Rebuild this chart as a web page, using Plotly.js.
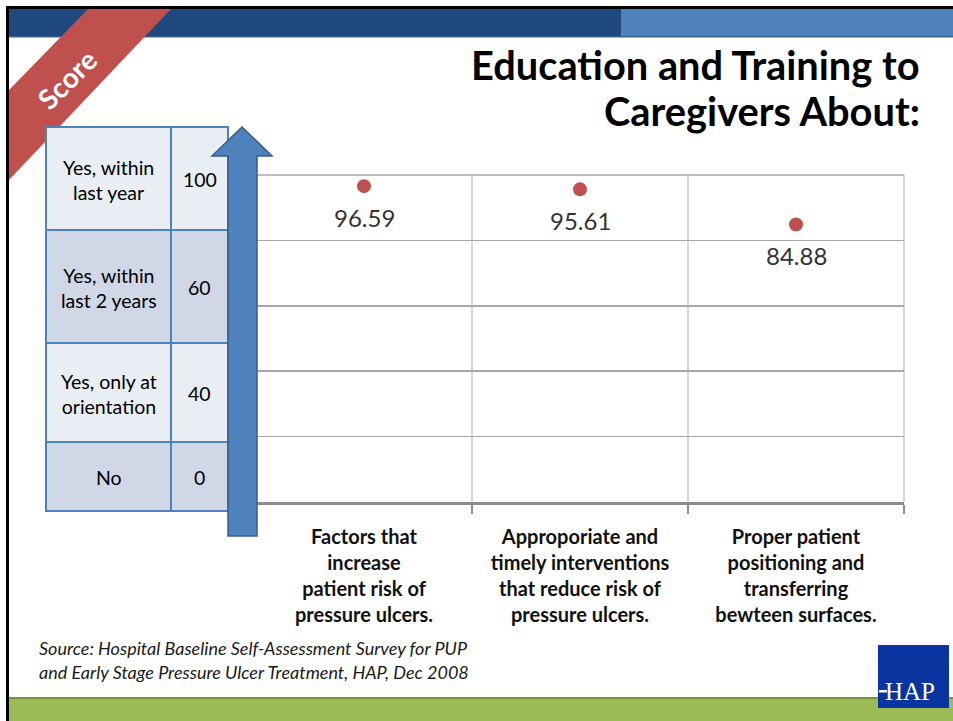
<!DOCTYPE html>
<html>
<head>
<meta charset="utf-8">
<script src="https://cdn.plot.ly/plotly-3.0.1.min.js"></script>
<style>
html,body{margin:0;padding:0;background:#fff;}
#chart{width:953px;height:721px;}
</style>
</head>
<body>
<div id="chart"></div>
<script>
// ---- data ----
const categories = [
  "Factors that<br>increase<br>patient risk of<br>pressure ulcers.",
  "Approporiate and<br>timely interventions<br>that reduce risk of<br>pressure ulcers.",
  "Proper patient<br>positioning and<br>transferring<br>bewteen surfaces."
];
const scores = [96.59, 95.61, 84.88];
const scoreLevels = ["Yes, within<br>last year", "Yes, within<br>last 2 years", "Yes, only at<br>orientation", "No"];
const scoreValues = [100, 60, 40, 0];
const titleLines = ["Education and Training to", "Caregivers About:"];
const sourceLines = [
  "Source: Hospital Baseline Self-Assessment Survey for PUP",
  "and Early Stage Pressure Ulcer Treatment, HAP, Dec 2008"
];

// ---- layout geometry (pixels) ----
const W = 953, H = 721;
const L = 256, R = 904, T = 175, B = 502;
const PW = R - L, PH = B - T;
const X = p => (p - L) / PW;
const Y = p => (B - p) / PH;

const FONT = "Lato, 'Open Sans', sans-serif";

const shapes = [];
const annotations = [];

function rect(x0, y0, x1, y1, fill, line, lw, layer) {
  shapes.push({type: 'rect', xref: 'paper', yref: 'paper',
    x0: X(x0), x1: X(x1), y0: Y(y1), y1: Y(y0),
    fillcolor: fill, line: {color: line || fill, width: lw === undefined ? 0 : lw},
    layer: layer || 'above'});
}
function poly(pts, fill, line, lw, layer) {
  let d = pts.map((p, i) => (i ? 'L' : 'M') + X(p[0]) + ',' + Y(p[1])).join(' ') + ' Z';
  shapes.push({type: 'path', xref: 'paper', yref: 'paper', path: d,
    fillcolor: fill, line: {color: line || fill, width: lw || 0}, layer: layer || 'above'});
}
function seg(x0, y0, x1, y1, color, w, layer) {
  shapes.push({type: 'line', xref: 'paper', yref: 'paper',
    x0: X(x0), x1: X(x1), y0: Y(y0), y1: Y(y1),
    line: {color: color, width: w}, layer: layer || 'below'});
}
function text(t, x, y, opts) {
  annotations.push(Object.assign({text: t, xref: 'paper', yref: 'paper',
    x: X(x), y: Y(y), showarrow: false, xanchor: 'center', yanchor: 'middle',
    font: {family: FONT, size: 18, color: '#000'}}, opts || {}));
}

// slide frame
rect(6, 6, 953, 9, '#000', null, 0, 'below');
rect(6, 6, 9, 721, '#000', null, 0, 'above');
// top bars
rect(9, 9, 621, 37, '#1F497D', null, 0, 'below');
rect(621, 9, 953, 37, '#4F81BD', null, 0, 'below');
rect(9, 36, 953, 37.5, '#3A6191', null, 0, 'below');
// green footer
rect(9, 697, 953, 721, '#9BBB59', null, 0, 'below');
rect(9, 697, 953, 699, '#77933C', null, 0, 'below');
// red ribbon
poly([[88, 9], [171, 9], [9, 180], [9, 90]], '#C0504D', null, 0, 'below');
text('<b>Score</b>', 67, 79, {textangle: -45, font: {family: FONT, size: 28, color: '#fff'}});

// title
titleLines.forEach((t, i) => {
  text('<b>' + t + '</b>', 922, 64 + i * 46, {xanchor: 'right', font: {family: FONT, size: 39.8, color: '#000'}});
});

// plot frame lines where the grid stops at the range edges
seg(L, T, R, T, '#A8A8A8', 1.5);
seg(R, T, R, B, '#C8C8C8', 1.5);

// score table
const rowEdges = [127, 230, 343, 442, 511];
const rowFills = ['#E9EDF4', '#D0D8E8', '#E9EDF4', '#D0D8E8'];
scoreLevels.forEach((lab, i) => {
  const y0 = rowEdges[i], y1 = rowEdges[i + 1];
  rect(46, y0, 171, y1, rowFills[i], '#4F81BD', 2);
  rect(171, y0, 228, y1, rowFills[i], '#4F81BD', 2);
  text(lab, 108.5, (y0 + y1) / 2 + 1, {font: {family: FONT, size: 19.5, color: '#000'}});
  text(String(scoreValues[i]), 199.5, (y0 + y1) / 2 + 1, {font: {family: FONT, size: 19.5, color: '#000'}});
});

// arrow
poly([[242, 127], [272, 156], [257, 156], [257, 536], [228, 536], [228, 156], [212, 156]],
  '#4F81BD', '#385D8A', 1.5);

// source
sourceLines.forEach((t, i) => {
  text('<i>' + t + '</i>', 37, 648 + i * 24, {xanchor: 'left',
    font: {family: FONT, size: 18, color: '#1a1a1a'}});
});

// HAP logo
rect(878, 645, 949, 708, '#0A34A0', null, 0, 'above');
rect(879, 690, 887, 692.5, '#fff', null, 0, 'above');
text('HAP', 910, 691, {font: {family: "'Liberation Serif', serif", size: 25, color: '#fff'}});

// data labels, placed on the data scale
scores.forEach((v, i) => {
  annotations.push({xref: 'x', yref: 'y', x: categories[i], y: v, yshift: -31,
    text: v.toFixed(2), showarrow: false, xanchor: 'center', yanchor: 'middle',
    font: {family: FONT, size: 24, color: '#333'}});
});

const trace = {
  type: 'scatter', mode: 'markers',
  x: categories, y: scores,
  marker: {size: 14, color: '#C0504D'},
  cliponaxis: false,
  hoverinfo: 'none'
};

const layout = {
  width: W, height: H,
  margin: {l: L, r: W - R, t: T, b: H - B, pad: 0},
  paper_bgcolor: '#fff', plot_bgcolor: '#fff',
  showlegend: false,
  xaxis: {
    type: 'category', range: [-0.5, 2.5], automargin: false,
    tickson: 'boundaries', ticks: 'outside', ticklen: 9, tickwidth: 2, tickcolor: '#8C8C8C',
    showgrid: true, gridcolor: '#D4D4D4', gridwidth: 1.5,
    showline: true, linecolor: '#8C8C8C', linewidth: 2.5,
    tickfont: {family: FONT, size: 20, weight: 'bold', color: '#111'},
    ticklabelstandoff: 15,
    fixedrange: true
  },
  yaxis: {
    range: [0, 100], dtick: 20, automargin: false,
    showticklabels: false, ticks: '',
    showgrid: true, gridcolor: '#A8A8A8', gridwidth: 1.5,
    zeroline: false, showline: false, fixedrange: true
  },
  shapes: shapes,
  annotations: annotations
};

Plotly.newPlot('chart', [trace], layout, {displayModeBar: false, staticPlot: true});
</script>
</body>
</html>
